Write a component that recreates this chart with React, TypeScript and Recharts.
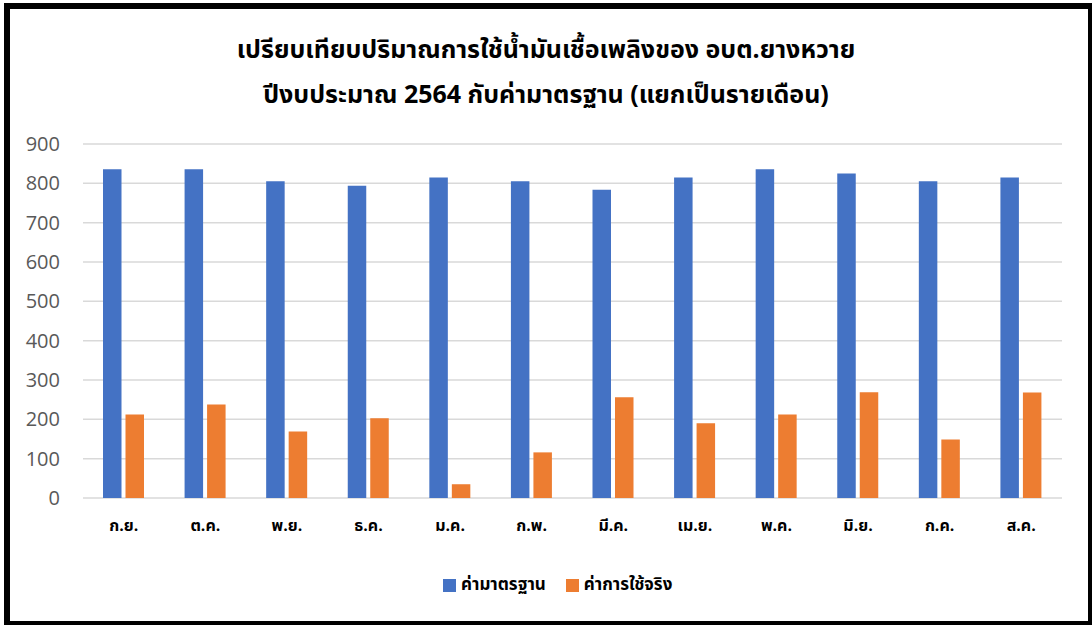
import React from 'react';
import { BarChart, Bar, XAxis, YAxis, CartesianGrid, Legend } from 'recharts';

const months = ['ก.ย.', 'ต.ค.', 'พ.ย.', 'ธ.ค.', 'ม.ค.', 'ก.พ.', 'มี.ค.', 'เม.ย.', 'พ.ค.', 'มิ.ย.', 'ก.ค.', 'ส.ค.'];
const standard = [836, 836, 805, 794, 815, 805, 784, 815, 836, 825, 805, 815];
const actual = [212, 238, 169, 203, 35, 116, 256, 190, 212, 269, 149, 268];
const yTicks = [0, 100, 200, 300, 400, 500, 600, 700, 800, 900];
const seriesNames = ['ค่ามาตรฐาน', 'ค่าการใช้จริง'];

const data = months.map((m, i) => ({ month: m, standard: standard[i], actual: actual[i] }));

const thaiFont = '"Noto Sans Thai", "Noto Sans", "DejaVu Sans", sans-serif';

const LegendContent = (props: any) => {
  const items = seriesNames
    .map((n) => (props.payload || []).find((p: any) => p.value === n))
    .filter(Boolean);
  return (
    <div style={{ display: 'flex', justifyContent: 'flex-start', paddingLeft: 443, gap: 20, fontFamily: thaiFont, fontWeight: 'bold', fontSize: 17, color: '#000' }}>
      {items.map((p: any) => (
        <div key={p.value} style={{ display: 'flex', alignItems: 'center' }}>
          <span style={{ width: 13, height: 13, background: p.color, display: 'inline-block', marginRight: 5 }} />
          <span>{p.value}</span>
        </div>
      ))}
    </div>
  );
};

export default function App() {
  return (
    <div style={{ position: 'absolute', left: 0, top: 0, width: 1092, height: 625, background: '#fff', overflow: 'hidden' }}>
      <div style={{ position: 'absolute', left: 4, top: 3, width: 1090, height: 624, border: '6px solid #000', boxSizing: 'border-box' }} />
      <div style={{ position: 'absolute', left: 0, top: 28, width: 1092, textAlign: 'center', fontFamily: thaiFont, fontWeight: 'bold', fontSize: 25, lineHeight: '45px', color: '#000' }}>
        <div>เปรียบเทียบปริมาณการใช้น้ำมันเชื้อเพลิงของ อบต.ยางหวาย</div>
        <div>ปีงบประมาณ 2564 กับค่ามาตรฐาน (แยกเป็นรายเดือน)</div>
      </div>
      <div style={{ position: 'absolute', left: 0, top: 0 }}>
        <BarChart width={1092} height={625} data={data} margin={{ top: 144, right: 30, left: 0, bottom: 31 }} barSize={18.5} barGap={4}>
          <CartesianGrid vertical={false} stroke="#d9d9d9" strokeWidth={1.5} />
          <XAxis dataKey="month" axisLine={false} tickLine={false} tickSize={0} tickMargin={22} height={70}
            tick={{ fill: '#000', fontSize: 16, fontWeight: 'bold', fontFamily: thaiFont }} interval={0} />
          <YAxis domain={[0, 900]} ticks={yTicks} axisLine={false} tickLine={false} tickSize={0} tickMargin={23} width={83}
            tick={{ fill: '#595959', fontSize: 20, fontFamily: '"Open Sans", sans-serif' }} />
          <Legend verticalAlign="bottom" content={<LegendContent />} wrapperStyle={{ bottom: 27, left: 0, width: 1092 }} />
          <Bar dataKey="standard" name={seriesNames[0]} fill="#4472C4" isAnimationActive={false} />
          <Bar dataKey="actual" name={seriesNames[1]} fill="#ED7D31" isAnimationActive={false} />
        </BarChart>
      </div>
    </div>
  );
}
